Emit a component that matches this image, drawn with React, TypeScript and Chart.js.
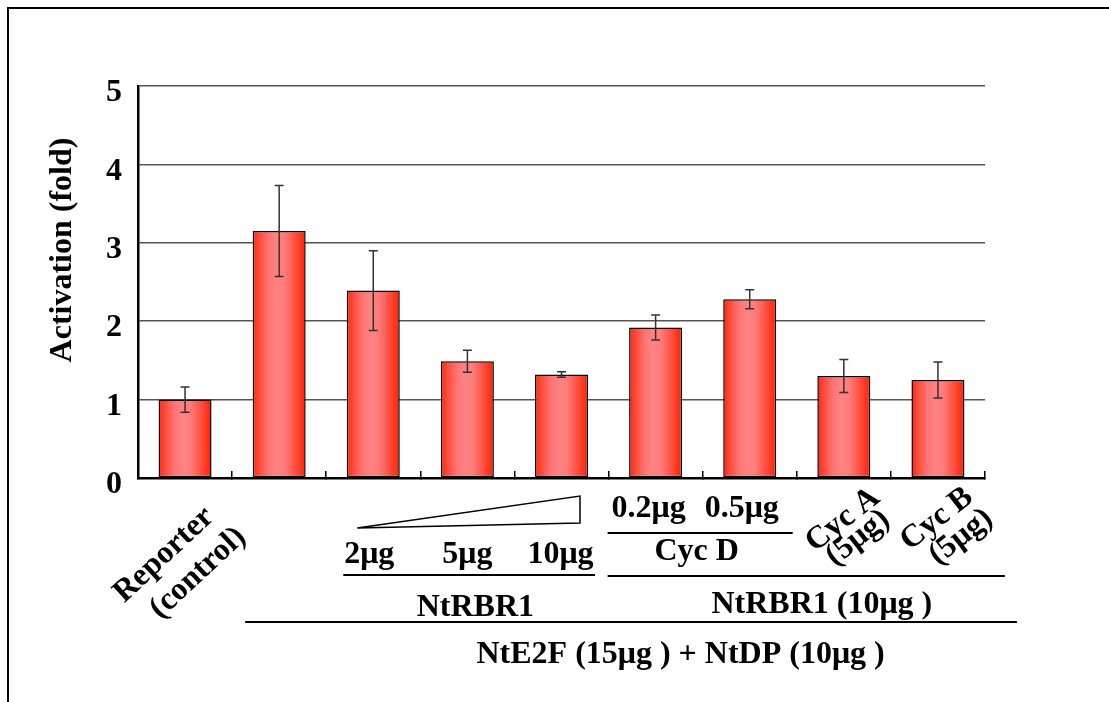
import React, { useEffect, useRef } from 'react';
import { Chart, registerables } from 'chart.js';

Chart.register(...registerables);

const categories = [
  'Reporter (control)',
  'NtE2F + NtDP',
  'NtRBR1 2μg',
  'NtRBR1 5μg',
  'NtRBR1 10μg',
  'Cyc D 0.2μg',
  'Cyc D 0.5μg',
  'Cyc A (5μg)',
  'Cyc B (5μg)',
];
const activation = [1.0, 3.15, 2.39, 1.49, 1.32, 1.92, 2.28, 1.3, 1.25];
const errors = [0.16, 0.58, 0.51, 0.14, 0.035, 0.16, 0.12, 0.21, 0.23];
const yMin = 0;
const yMax = 5;
const yStep = 1;
const yTitle = 'Activation (fold)';
const doseLabels = ['2μg', '5μg', '10μg'];
const cycDLabels = ['0.2μg', '0.5μg'];
const groupLabels = ['NtRBR1', 'Cyc D', 'NtRBR1 (10μg )', 'NtE2F (15μg ) + NtDP (10μg )'];
const reporterLines = ['Reporter', '(control)'];
const cycALines = ['Cyc A', '(5μg)'];
const cycBLines = ['Cyc B', '(5μg)'];

const FAMILY = '"Liberation Serif", "Times New Roman", Times, serif';
const FONT = `bold 32px ${FAMILY}`;
const BAR_PCT = 0.563;

const errorBarPlugin = {
  id: 'errorBars',
  afterDatasetsDraw(chart: any) {
    const ctx = chart.ctx;
    const ys = chart.scales.y;
    const meta = chart.getDatasetMeta(0);
    ctx.save();
    ctx.strokeStyle = '#333';
    ctx.lineWidth = 1.5;
    meta.data.forEach((el: any, i: number) => {
      const x = el.x;
      const top = ys.getPixelForValue(activation[i] + errors[i]);
      const bot = ys.getPixelForValue(activation[i] - errors[i]);
      const cap = 4.5;
      ctx.beginPath();
      ctx.moveTo(x, top);
      ctx.lineTo(x, bot);
      ctx.moveTo(x - cap, top);
      ctx.lineTo(x + cap, top);
      ctx.moveTo(x - cap, bot);
      ctx.lineTo(x + cap, bot);
      ctx.stroke();
    });
    ctx.restore();
  },
};

function rotatedText(ctx: CanvasRenderingContext2D, text: string, x: number, y: number, deg: number) {
  ctx.save();
  ctx.translate(x, y);
  ctx.rotate((deg * Math.PI) / 180);
  ctx.textAlign = 'center';
  ctx.textBaseline = 'middle';
  ctx.fillText(text, 0, 0);
  ctx.restore();
}

function hline(ctx: CanvasRenderingContext2D, x1: number, x2: number, y: number) {
  ctx.beginPath();
  ctx.moveTo(x1, y);
  ctx.lineTo(x2, y);
  ctx.stroke();
}

const annotationPlugin = {
  id: 'annotations',
  afterDraw(chart: any) {
    const ctx: CanvasRenderingContext2D = chart.ctx;
    const xs = chart.scales.x;
    const area = chart.chartArea;
    const c = (i: number) => xs.getPixelForValue(i);
    const B = area.bottom;
    ctx.save();
    ctx.fillStyle = '#000';
    ctx.strokeStyle = '#000';
    ctx.font = FONT;

    // y-axis title
    rotatedText(ctx, yTitle, area.left - 75, (area.top + area.bottom) / 2 - 32, -90);

    // Reporter (control)
    rotatedText(ctx, reporterLines[0], c(0) - 21, B + 77, -43);
    rotatedText(ctx, reporterLines[1], c(0) + 13, B + 95, -43);

    // Cyc A / Cyc B
    rotatedText(ctx, cycALines[0], c(7) - 1, B + 42, -38);
    rotatedText(ctx, cycALines[1], c(7) + 14, B + 60, -38);
    rotatedText(ctx, cycBLines[0], c(8) - 1, B + 41, -38);
    rotatedText(ctx, cycBLines[1], c(8) + 23, B + 59, -38);

    ctx.textAlign = 'center';
    ctx.textBaseline = 'alphabetic';

    // dose wedge
    ctx.lineWidth = 1.5;
    ctx.beginPath();
    ctx.moveTo(c(2) - 16, B + 50);
    ctx.lineTo(c(4) + 18.5, B + 18);
    ctx.lineTo(c(4) + 18.5, B + 45);
    ctx.closePath();
    ctx.stroke();

    ctx.fillText(doseLabels[0], c(2) - 4, B + 85);
    ctx.fillText(doseLabels[1], c(3), B + 85);
    ctx.fillText(doseLabels[2], c(4) - 1, B + 85);

    ctx.fillText(cycDLabels[0], c(5) - 7, B + 39);
    ctx.fillText(cycDLabels[1], c(6) - 8, B + 39);
    ctx.fillText(groupLabels[1], (c(5) + c(6)) / 2 - 6, B + 82);

    ctx.lineWidth = 2;
    hline(ctx, c(5) - 48, c(6) + 43, B + 55);
    hline(ctx, c(2) - 30, c(4) + 33.5, B + 97);
    hline(ctx, c(5) - 48, c(8) + 67, B + 98);
    hline(ctx, c(1) - 34, c(8) + 79, B + 144);

    ctx.fillText(groupLabels[0], c(3) + 8, B + 138);
    ctx.fillText(groupLabels[2], c(7) - 22, B + 135);
    ctx.fillText(groupLabels[3], c(5) + 25, B + 185);

    ctx.restore();
  },
};

export default function App() {
  const ref = useRef<HTMLCanvasElement | null>(null);

  useEffect(() => {
    if (!ref.current) return;
    const chart = new Chart(ref.current, {
      type: 'bar',
      data: {
        labels: categories,
        datasets: [
          {
            data: activation,
            backgroundColor: (ctx: any) => {
              const ch = ctx.chart;
              const xs = ch.scales && ch.scales.x;
              if (!xs || ctx.type !== 'data') return '#ff5a4a';
              const step = (xs.right - xs.left) / categories.length;
              const hw = (step * BAR_PCT) / 2;
              const cx = xs.getPixelForValue(ctx.dataIndex);
              if (!isFinite(cx)) return '#ff5a4a';
              const g = ch.ctx.createLinearGradient(cx - hw, 0, cx + hw, 0);
              g.addColorStop(0, '#ff2408');
              g.addColorStop(0.12, '#ff4a38');
              g.addColorStop(0.3, '#ff7474');
              g.addColorStop(0.45, '#ff8282');
              g.addColorStop(0.6, '#ff7c7c');
              g.addColorStop(0.8, '#ff5040');
              g.addColorStop(1, '#ff2000');
              return g;
            },
            borderColor: '#000',
            borderWidth: 1.5,
            borderSkipped: false,
            categoryPercentage: 1,
            barPercentage: BAR_PCT,
          },
        ],
      },
      options: {
        animation: false,
        responsive: false,
        maintainAspectRatio: false,
        layout: { padding: { left: 0, top: 77, right: 124, bottom: 0 } },
        plugins: {
          legend: { display: false },
          tooltip: { enabled: false },
          title: { display: false },
        },
        scales: {
          x: {
            offset: true,
            ticks: { display: false },
            grid: {
              offset: true,
              drawOnChartArea: false,
              drawTicks: true,
              tickLength: -7,
              color: '#000',
              lineWidth: 1.5,
            },
            border: { color: '#000', width: 2.5 },
            afterFit: (s: any) => {
              s.height = 224;
            },
          },
          y: {
            min: yMin,
            max: yMax,
            ticks: {
              stepSize: yStep,
              color: '#000',
              padding: 16,
              labelOffset: 7,
              font: { family: FAMILY, size: 32, weight: 'bold' },
            },
            grid: {
              drawTicks: false,
              color: (ctx: any) => (ctx.tick && ctx.tick.value === 0 ? '#000' : '#555'),
              lineWidth: 1.5,
            },
            border: { color: '#000', width: 2.5 },
            afterFit: (s: any) => {
              s.width = 129;
            },
          },
        },
      },
      plugins: [errorBarPlugin, annotationPlugin],
    });
    return () => chart.destroy();
  }, []);

  return (
    <div
      style={{
        position: 'absolute',
        left: 7,
        top: 7,
        width: 1100,
        height: 693,
        borderLeft: '2px solid #000',
        borderTop: '2px solid #000',
        background: '#fff',
      }}
    >
      <canvas ref={ref} width={1100} height={693} style={{ display: 'block', width: 1100, height: 693 }} />
    </div>
  );
}
